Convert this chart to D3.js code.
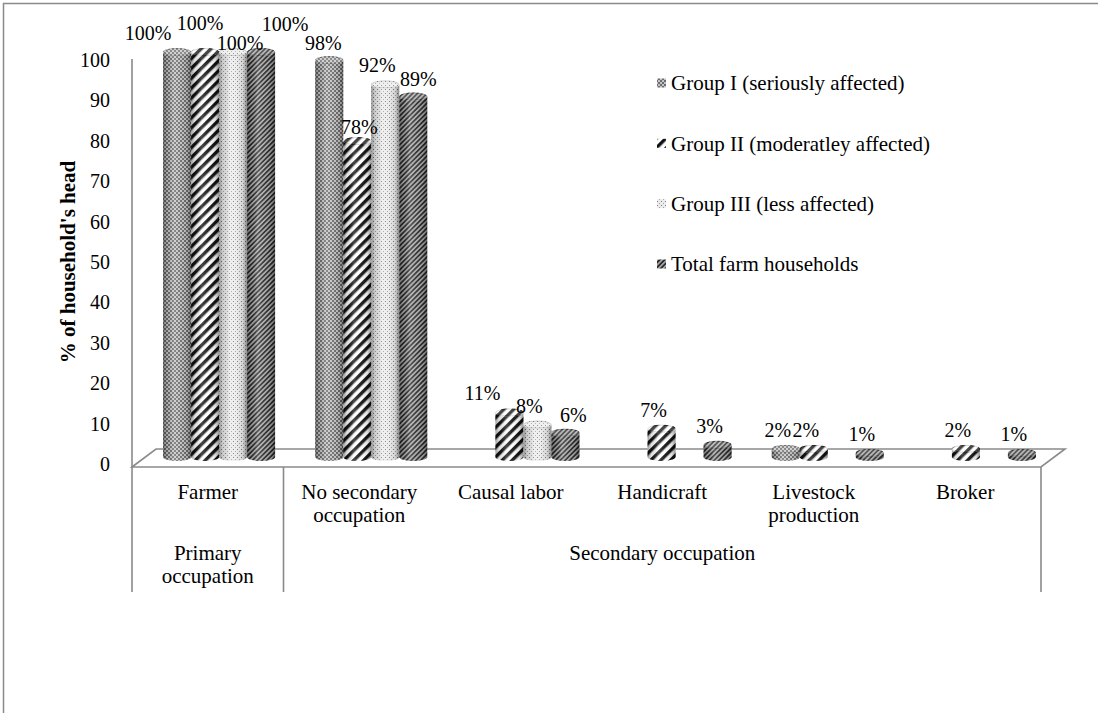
<!DOCTYPE html>
<html>
<head>
<meta charset="utf-8">
<script src="https://cdn.jsdelivr.net/npm/d3@7"></script>
<style>
  html, body { margin: 0; padding: 0; background: #fff; }
  svg { display: block; }
  text { font-family: "Liberation Serif", "Times New Roman", serif; fill: #000; }
</style>
</head>
<body>
<svg id="chart" width="1098" height="713"></svg>
<script>
// Occupations of household heads, by degree of impact
const categories = ["Farmer", "No secondary occupation", "Causal labor", "Handicraft", "Livestock production", "Broker"];
const groupNames = ["Primary occupation", "Secondary occupation"];
const groupSizes = [1, 5];
const seriesNames = ["Group I (seriously affected)", "Group II (moderatley affected)", "Group III (less affected)", "Total farm households"];
const groupI   = [100, 98, null, null, 2, null];
const groupII  = [100, 78, 11, 7, 2, 2];
const groupIII = [100, 92, 8, null, null, null];
const totalHH  = [100, 89, 6, 3, 1, 1];
const yTicks = [0, 10, 20, 30, 40, 50, 60, 70, 80, 90, 100];
const seriesValues = [groupI, groupII, groupIII, totalHH];

// label placement tweaks (dx, dy) where labels would otherwise collide
const labelNudge = {
  "0|0": [-21, 0], "0|1": [3, -10], "0|2": [15, 10], "0|3": [32, -9],
  "1|0": [2, 2], "1|1": [10, 5], "1|3": [13, 1],
  "2|1": [-19, 0], "2|3": [16, 1]
};

const svg = d3.select("#chart");
const defs = svg.append("defs");
const lineColor = "#8a8a8a";

// outer frame
svg.append("rect").attr("x", 3.5).attr("y", 3.5).attr("width", 1300).attr("height", 900)
  .attr("fill", "none").attr("stroke", lineColor).attr("stroke-width", 1.5);

// ---- fill patterns for the four series ----
function pat(id, w, h, rot) {
  const p = defs.append("pattern").attr("id", id).attr("patternUnits", "userSpaceOnUse")
    .attr("width", w).attr("height", h);
  if (rot) p.attr("patternTransform", `rotate(${rot})`);
  return p;
}
// Group I: fine grey checker
let p = pat("pat0", 4, 4);
p.append("rect").attr("width", 4).attr("height", 4).attr("fill", "#c4c4c4");
p.append("rect").attr("width", 2).attr("height", 2).attr("fill", "#6c6c6c");
p.append("rect").attr("x", 2).attr("y", 2).attr("width", 2).attr("height", 2).attr("fill", "#6c6c6c");
// Group II: wide black diagonal stripes
p = pat("pat1", 7, 7, 45);
p.append("rect").attr("width", 7).attr("height", 7).attr("fill", "#fff");
p.append("rect").attr("width", 3.4).attr("height", 7).attr("fill", "#111");
// Group III: light dotted
p = pat("pat2", 4, 4);
p.append("rect").attr("width", 4).attr("height", 4).attr("fill", "#ececec");
p.append("rect").attr("x", 1).attr("y", 1).attr("width", 1).attr("height", 1).attr("fill", "#7a7a7a");
p.append("rect").attr("x", 3).attr("y", 3).attr("width", 1).attr("height", 1).attr("fill", "#a0a0a0");
// Total: narrow dark diagonal stripes
p = pat("pat3", 3.4, 3.4, 45);
p.append("rect").attr("width", 3.4).attr("height", 3.4).attr("fill", "#a6a6a6");
p.append("rect").attr("width", 1.7).attr("height", 3.4).attr("fill", "#2a2a2a");

// cylinder shading
const shade = defs.append("linearGradient").attr("id", "shade")
  .attr("x1", 0).attr("x2", 1).attr("y1", 0).attr("y2", 0);
[[0, "#000", 0.38], [0.14, "#000", 0.12], [0.38, "#fff", 0.22], [0.6, "#fff", 0.08], [0.86, "#000", 0.12], [1, "#000", 0.42]]
  .forEach(([o, c, a]) => shade.append("stop").attr("offset", o).attr("stop-color", c).attr("stop-opacity", a));

// ---- scales ----
const floorFrontY = 467;
const depth = [24, -18];
const xCat = d3.scaleBand().domain(categories).range([132, 1041]);
const xBar = d3.scaleBand().domain(categories).range([143, 1056]);
const barW = 28;
const xSeries = d3.scaleBand().domain(d3.range(seriesNames.length)).range([0, barW * seriesNames.length]);
const yAxis = d3.scaleLinear().domain([0, 100]).range([464, 60]);
const yBar = d3.scaleLinear().domain([0, 100]).range([457, 52]);

// ---- floor ----
const fl = xCat.range()[0], fr = xCat.range()[1];
svg.append("path")
  .attr("d", `M${fl},${floorFrontY} L${fl + depth[0]},${floorFrontY + depth[1]} L${fr + depth[0]},${floorFrontY + depth[1]} L${fr},${floorFrontY} Z`)
  .attr("fill", "none").attr("stroke", lineColor).attr("stroke-width", 1.6);

// ---- value axis ----
svg.append("line").attr("x1", fl).attr("x2", fl).attr("y1", yAxis(100) - 1).attr("y2", floorFrontY)
  .attr("stroke", lineColor).attr("stroke-width", 1.6);
const ax = svg.append("g").attr("transform", `translate(${fl},0)`)
  .call(d3.axisLeft(yAxis).tickValues(yTicks).tickSize(0).tickPadding(22));
ax.select(".domain").remove();
ax.selectAll("text").style("font-family", '"Liberation Serif", serif').style("font-size", "20px").attr("fill", "#000");

svg.append("text")
  .attr("transform", `translate(68,${(yAxis(0) + yAxis(100)) / 2}) rotate(-90)`)
  .attr("text-anchor", "middle").attr("dy", "0.35em")
  .style("font-size", "21px").style("font-weight", "bold")
  .text("% of household's head");

// ---- category axis (two levels) ----
const catBottom = 592;
let gx = fl;
const sepXs = [fl];
groupSizes.forEach((n, i) => {
  const x0 = gx, x1 = gx + n * xCat.bandwidth();
  sepXs.push(x1);
  const lines = wrap(groupNames[i], x1 - x0 - 20);
  const t = svg.append("text").attr("x", (x0 + x1) / 2).attr("y", 553)
    .attr("text-anchor", "middle").style("font-size", "21px");
  lines.forEach((l, k) => t.append("tspan").attr("x", (x0 + x1) / 2).attr("dy", k === 0 ? "0.35em" : "23px").text(l));
  gx = x1;
});
sepXs.forEach(x => svg.append("line").attr("x1", x).attr("x2", x).attr("y1", floorFrontY).attr("y2", catBottom)
  .attr("stroke", lineColor).attr("stroke-width", 1.6));

categories.forEach(c => {
  const cx = xCat(c) + xCat.bandwidth() / 2;
  const lines = wrap(c, 140);
  const t = svg.append("text").attr("x", cx).attr("y", 492).attr("text-anchor", "middle").style("font-size", "21px");
  lines.forEach((l, k) => t.append("tspan").attr("x", cx).attr("dy", k === 0 ? "0.35em" : "23px").text(l));
});

function wrap(str, maxW) {
  const words = str.split(" ");
  const meas = svg.append("text").style("font-size", "21px").attr("visibility", "hidden");
  const out = [];
  let cur = "";
  words.forEach(w => {
    const test = cur ? cur + " " + w : w;
    meas.text(test);
    if (meas.node().getComputedTextLength() > maxW && cur) { out.push(cur); cur = w; }
    else cur = test;
  });
  if (cur) out.push(cur);
  meas.remove();
  return out;
}

// ---- cylinders ----
const rx = barW / 2, ry = 4;
const bars = [];
categories.forEach((c, ci) => {
  const g0 = xBar(c) + xBar.bandwidth() / 2 - (barW * seriesNames.length) / 2;
  seriesValues.forEach((vals, si) => {
    const v = vals[ci];
    if (v == null) return;
    bars.push({ ci, si, v, x0: g0 + xSeries(si), yTop: yBar(v), yBase: yBar(0) });
  });
});

const barG = svg.append("g");
bars.forEach(b => {
  const x0 = b.x0, x1 = b.x0 + barW;
  const body = `M${x0},${b.yTop} L${x0},${b.yBase} A${rx},${ry} 0 0 0 ${x1},${b.yBase} L${x1},${b.yTop} A${rx},${ry} 0 0 1 ${x0},${b.yTop} Z`;
  barG.append("path").attr("d", body).attr("fill", `url(#pat${b.si})`);
  barG.append("path").attr("d", body).attr("fill", "url(#shade)");
  barG.append("ellipse").attr("cx", x0 + rx).attr("cy", b.yTop).attr("rx", rx).attr("ry", ry)
    .attr("fill", `url(#pat${b.si})`);
  barG.append("ellipse").attr("cx", x0 + rx).attr("cy", b.yTop).attr("rx", rx - 0.5).attr("ry", ry - 0.5)
    .attr("fill", "#fff").attr("fill-opacity", 0.22)
    .attr("stroke", "#000").attr("stroke-opacity", 0.18).attr("stroke-width", 0.8);
});

// value labels
bars.forEach(b => {
  const n = labelNudge[`${b.ci}|${b.si}`] || [0, 0];
  svg.append("text")
    .attr("x", b.x0 + rx - 8 + n[0]).attr("y", b.yTop - 19 + n[1])
    .attr("text-anchor", "middle").attr("dy", "0.35em").style("font-size", "20px")
    .text(`${b.v}%`);
});

// ---- legend ----
const legY = d3.scalePoint().domain(d3.range(seriesNames.length)).range([83, 264]);
seriesNames.forEach((s, i) => {
  const y = legY(i);
  svg.append("rect").attr("x", 657).attr("y", y - 4.5).attr("width", 9).attr("height", 9).attr("fill", `url(#pat${i})`);
  svg.append("text").attr("x", 671).attr("y", y).attr("dy", "0.35em").style("font-size", "21px").text(s);
});
</script>
</body>
</html>
